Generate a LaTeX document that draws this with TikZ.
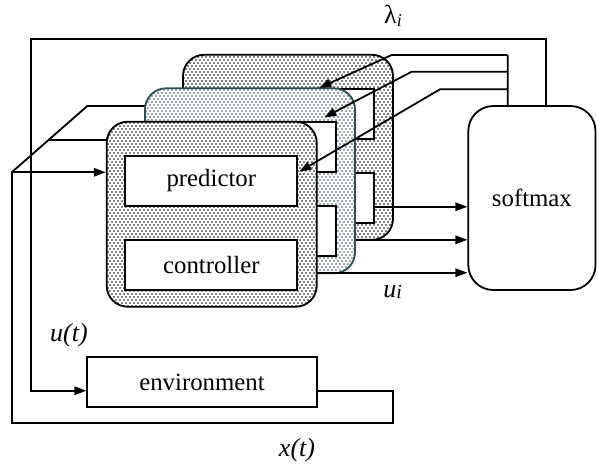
\documentclass[tikz,border=0pt]{standalone}
\usepackage{fontspec}
\setmainfont{Liberation Serif}
\usetikzlibrary{arrows.meta,calc,patterns}
\pgfdeclarepatternformonly{fdots}{\pgfqpoint{-0.5pt}{-0.5pt}}{\pgfqpoint{2.5pt}{3.5pt}}{\pgfqpoint{2pt}{3pt}}{%
  \pgfpathcircle{\pgfqpoint{0pt}{0pt}}{0.42pt}%
  \pgfpathcircle{\pgfqpoint{1pt}{1.5pt}}{0.42pt}%
  \pgfusepath{fill}}
\definecolor{midcol}{RGB}{45,80,78}
\tikzset{
  ln/.style={line width=0.9pt,line join=miter},
  arr/.style={ln,-{Triangle[length=6pt,width=4.2pt]}},
  layer/.style={ln,draw=black,rounded corners=10.5pt,minimum width=105pt,minimum height=92.5pt,
    preaction={fill=white},pattern=fdots,pattern color=black},
  midlayer/.style={layer,draw=midcol,pattern color=midcol},
  inbox/.style={ln,draw=black,fill=white,minimum width=86pt,minimum height=25pt,inner sep=0pt,
    font=\fontsize{12.4}{14}\selectfont},
  lab/.style={font=\fontsize{13}{15}\selectfont\itshape,inner sep=0pt}
}
\begin{document}
\begin{tikzpicture}[x=0.5pt,y=-0.5pt]
\useasboundingbox (0,0) rectangle (597,468);
% input distribution (drawn first, hidden behind layers)
\coordinate (xs) at (11.7,172.3);
\coordinate (db) at (87.3,106);
\coordinate (dm) at ($(xs)!0.487!(db)$);
\coordinate (bl) at (182.7,106);
\coordinate (ml) at (145,140);
\draw[arr] (xs) -- (db) -- (bl);
\draw[arr] (dm) -- (ml);
% back layer
\begin{scope}[shift={(76.3,-66.9)}]
\node[layer] (la) at (211.7,214.2) {};
\node[inbox] (pa) at (211.3,180.7) {predictor};
\node[inbox] (ca) at (211.3,264.65) {controller};
\end{scope}
% middle layer
\begin{scope}[shift={(38.3,-33.4)}]
\node[midlayer] (lb) at (211.7,214.2) {};
\node[inbox] (pb) at (211.3,180.7) {predictor};
\node[inbox] (cb) at (211.3,264.65) {controller};
\end{scope}
% front layer
\node[layer] (lc) at (211.7,214.2) {};
\node[inbox] (pc) at (211.3,180.7) {predictor};
\node[inbox] (cc) at (211.3,264.65) {controller};
% softmax and environment
\node[ln,draw,rounded corners=12.5pt,minimum width=63.6pt,minimum height=92pt,
  font=\fontsize{12.4}{14}\selectfont] (sm) at (531.9,198) {softmax};
\node[inbox,minimum width=114.7pt,minimum height=25.2pt] (env) at (202,381.9) {environment};
% arrow into front layer
\draw[arr] (xs) -- (xs -| lc.west);
% outputs u_i to softmax
\coordinate (oa) at ($(ca.east)+(0,9)$);
\coordinate (ob) at (lb.east |- 0,239.8);
\coordinate (oc) at (lc.east |- 0,272.7);
\draw[arr] (oa) -- (oa -| sm.west);
\draw[arr] (ob) -- (ob -| sm.west);
\draw[arr] (oc) -- (oc -| sm.west);
% lambda_i distribution
\coordinate (lr) at ($(sm.north)+(-24.2,0)$);
\coordinate (l1) at (507.7,55);
\coordinate (l2) at (507.7,71.7);
\coordinate (l3) at (507.7,89.3);
\draw[ln] (lr) -- (l1);
\draw[arr] (l1) -- (391.7,55) -- ($(pa.north east)+(-55.3,0)$);
\draw[arr] (l2) -- (411.7,71.7) -- ($(pb.north east)+(-12.3,-4)$);
\draw[arr] (l3) -- (440,89.3) -- ($(pc.east)+(1,-9)$);
% u(t) loop: softmax -> environment
\coordinate (su) at ($(sm.north)+(13.8,0)$);
\coordinate (ul) at (31,39);
\draw[arr] (su) |- (ul) |- ($(env.west)+(0,8.8)$);
% x(t) loop: environment -> layers
\coordinate (xr) at (393,390.7);
\coordinate (xb) at (11.7,423.3);
\draw[ln] ($(env.east)+(0,8.8)$) -- (xr) |- (xb) -- (xs);
% labels
\node[inner sep=0pt,font=\fontsize{13}{15}\selectfont] (tlam) at (393,16) {λ\raisebox{-0.25ex}{\fontsize{9}{9}\selectfont\itshape i}};
\node[lab] (tui) at (392.7,291.7) {u\raisebox{-0.1ex}{\fontsize{10}{10}\selectfont i}};
\node[lab] (tut) at (69,335) {u(t)};
\node[lab] (txt) at (297,450) {x(t)};
\end{tikzpicture}
\end{document}
